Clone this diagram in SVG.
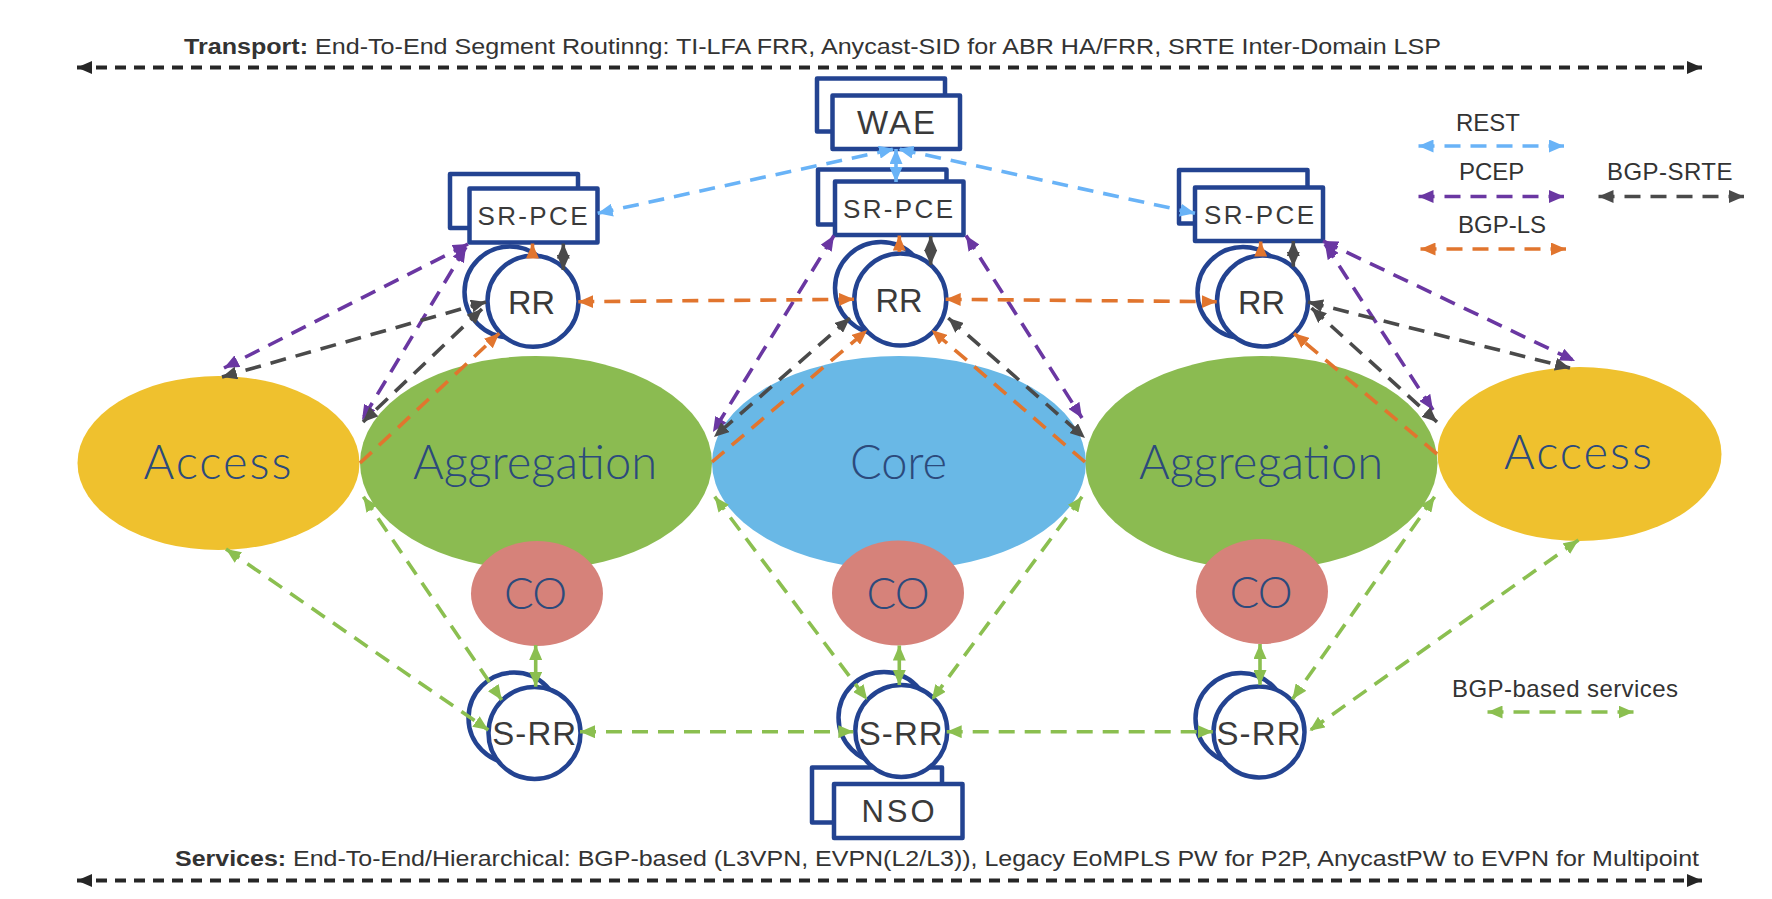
<svg xmlns="http://www.w3.org/2000/svg" width="1772" height="899" viewBox="0 0 1772 899">
<style>
.big{font-family:Lato,"Liberation Sans",sans-serif;font-weight:300;font-size:47px;fill:#2C4A7C;text-anchor:middle}
.co{font-family:Lato,"Liberation Sans",sans-serif;font-weight:300;font-size:44px;fill:#2C4A7C;text-anchor:middle}
.lbl{font-family:"Liberation Sans",Arial,sans-serif;fill:#3A3A3A;text-anchor:middle}
.leg{font-family:"Liberation Sans",Arial,sans-serif;font-size:24px;fill:#333333}
.cap{font-family:"Liberation Sans",Arial,sans-serif;font-size:22px;fill:#333333}
.box{fill:#FFFFFF;stroke:#234391;stroke-width:4.5;stroke-linejoin:round}
.cir{fill:#FFFFFF;stroke:#234391;stroke-width:4.5}
.c{fill:none;stroke-width:3.6;stroke-dasharray:16 10}
.solid{stroke-dasharray:none}
.rest{stroke:#69B3F7;marker-start:url(#mRest);marker-end:url(#mRest)}
.pcep{stroke:#6A37A2;marker-start:url(#mPcep);marker-end:url(#mPcep)}
.srte{stroke:#4A4A4A;marker-start:url(#mSrte);marker-end:url(#mSrte)}
.ls{stroke:#E1752E;marker-start:url(#mLs);marker-end:url(#mLs)}
.ls1{stroke:#E1752E;marker-end:url(#mLs)}
.svc{stroke:#8BBF50;marker-start:url(#mSvc);marker-end:url(#mSvc)}
.long{fill:none;stroke:#262626;stroke-width:4;stroke-dasharray:11 8;marker-start:url(#mLong);marker-end:url(#mLong)}
</style>
<defs>
<marker id="mRest" viewBox="0 0 15 13" refX="15" refY="6.5" markerWidth="15" markerHeight="13" markerUnits="userSpaceOnUse" orient="auto-start-reverse"><path d="M0,0 L15,6.5 L0,13 Z" fill="#69B3F7"/></marker>
<marker id="mPcep" viewBox="0 0 15 13" refX="15" refY="6.5" markerWidth="15" markerHeight="13" markerUnits="userSpaceOnUse" orient="auto-start-reverse"><path d="M0,0 L15,6.5 L0,13 Z" fill="#6A37A2"/></marker>
<marker id="mSrte" viewBox="0 0 15 13" refX="15" refY="6.5" markerWidth="15" markerHeight="13" markerUnits="userSpaceOnUse" orient="auto-start-reverse"><path d="M0,0 L15,6.5 L0,13 Z" fill="#4A4A4A"/></marker>
<marker id="mLs" viewBox="0 0 15 13" refX="15" refY="6.5" markerWidth="15" markerHeight="13" markerUnits="userSpaceOnUse" orient="auto-start-reverse"><path d="M0,0 L15,6.5 L0,13 Z" fill="#E1752E"/></marker>
<marker id="mSvc" viewBox="0 0 15 13" refX="15" refY="6.5" markerWidth="15" markerHeight="13" markerUnits="userSpaceOnUse" orient="auto-start-reverse"><path d="M0,0 L15,6.5 L0,13 Z" fill="#8BBF50"/></marker>
<marker id="mLong" viewBox="0 0 15 13" refX="15" refY="6.5" markerWidth="15" markerHeight="13" markerUnits="userSpaceOnUse" orient="auto-start-reverse"><path d="M0,0 L15,6.5 L0,13 Z" fill="#262626"/></marker>
</defs>
<rect width="1772" height="899" fill="#FFFFFF"/>

<!-- captions -->
<g id="transport">
<text class="cap" x="184" y="54" textLength="1257" lengthAdjust="spacingAndGlyphs"><tspan font-weight="bold">Transport:</tspan> End-To-End Segment Routinng: TI-LFA FRR, Anycast-SID for ABR HA/FRR, SRTE Inter-Domain LSP</text>
<line class="long" x1="77" y1="67.5" x2="1702" y2="67.5"/>
</g>
<g id="services">
<text class="cap" x="175" y="866" textLength="1524" lengthAdjust="spacingAndGlyphs"><tspan font-weight="bold">Services:</tspan> End-To-End/Hierarchical: BGP-based (L3VPN, EVPN(L2/L3)), Legacy EoMPLS PW for P2P, AnycastPW to EVPN for Multipoint</text>
<line class="long" x1="77" y1="880.5" x2="1702" y2="880.5"/>
</g>

<!-- domains -->
<g id="access-left"><ellipse cx="218.5" cy="463" rx="141" ry="87" fill="#EFC12E"/><text class="big" x="217.5" y="479" textLength="148">Access</text></g>
<g id="aggregation-left"><ellipse cx="536" cy="463" rx="176" ry="107" fill="#8BBB51"/><text class="big" x="535" y="479" textLength="244">Aggregation</text></g>
<g id="core"><ellipse cx="899" cy="463" rx="187" ry="107" fill="#69B8E6"/><text class="big" x="898.5" y="479" textLength="97">Core</text></g>
<g id="aggregation-right"><ellipse cx="1261.5" cy="463" rx="176" ry="107" fill="#8BBB51"/><text class="big" x="1261" y="479" textLength="244">Aggregation</text></g>
<g id="access-right"><ellipse cx="1579.5" cy="454" rx="142" ry="87" fill="#EFC12E"/><text class="big" x="1578" y="469" textLength="148">Access</text></g>

<g id="co-left"><ellipse cx="537" cy="593.5" rx="66" ry="52.5" fill="#D6827A"/><text class="co" x="535.5" y="609" textLength="63">CO</text></g>
<g id="co-middle"><ellipse cx="898" cy="593" rx="66" ry="52.5" fill="#D6827A"/><text class="co" x="898" y="609" textLength="63">CO</text></g>
<g id="co-right"><ellipse cx="1262" cy="591.5" rx="66" ry="52.5" fill="#D6827A"/><text class="co" x="1261" y="608" textLength="63">CO</text></g>

<!-- controllers -->
<g id="wae"><rect class="box" x="817" y="78.5" width="128" height="53"/><rect class="box" x="832.5" y="95.5" width="127.5" height="53.5"/><text class="lbl" x="896" y="134" font-size="33" textLength="78">WAE</text></g>
<g id="sr-pce-left"><rect class="box" x="450" y="174" width="128" height="54"/><rect class="box" x="469.5" y="188.5" width="128" height="54"/><text class="lbl" x="532.5" y="225" font-size="26" textLength="110">SR-PCE</text></g>
<g id="sr-pce-middle"><rect class="box" x="818" y="169.5" width="128.5" height="55"/><rect class="box" x="835" y="181.5" width="128.5" height="53.5"/><text class="lbl" x="898" y="217.5" font-size="26" textLength="110">SR-PCE</text></g>
<g id="sr-pce-right"><rect class="box" x="1179" y="170" width="128.5" height="53.5"/><rect class="box" x="1195" y="187.5" width="128" height="53.5"/><text class="lbl" x="1259" y="224" font-size="26" textLength="110">SR-PCE</text></g>

<g id="rr-left"><circle class="cir" cx="510" cy="292" r="45.5"/><circle class="cir" cx="533" cy="301.3" r="45.5"/><text class="lbl" x="531.5" y="313.5" font-size="32.5">RR</text></g>
<g id="rr-middle"><circle class="cir" cx="881" cy="288" r="46"/><circle class="cir" cx="900.3" cy="299.5" r="46"/><text class="lbl" x="899" y="311.7" font-size="32.5">RR</text></g>
<g id="rr-right"><circle class="cir" cx="1243" cy="292.5" r="45.5"/><circle class="cir" cx="1262.5" cy="301" r="45.5"/><text class="lbl" x="1261.5" y="313.5" font-size="32.5">RR</text></g>

<g id="nso"><rect class="box" x="812" y="767.5" width="130" height="55"/><rect class="box" x="834" y="784" width="128.5" height="54"/><text class="lbl" x="898" y="822" font-size="31" textLength="73">NSO</text></g>

<g id="s-rr-left"><circle class="cir" cx="514" cy="718" r="45.5"/><circle class="cir" cx="534.5" cy="733" r="46"/><text class="lbl" x="534.2" y="745" font-size="33" textLength="84">S-RR</text></g>
<g id="s-rr-middle"><circle class="cir" cx="884" cy="717.5" r="45.5"/><circle class="cir" cx="901.3" cy="731" r="46"/><text class="lbl" x="900.7" y="745" font-size="33" textLength="84">S-RR</text></g>
<g id="s-rr-right"><circle class="cir" cx="1241" cy="718.5" r="45.5"/><circle class="cir" cx="1259" cy="732" r="45.5"/><text class="lbl" x="1258.5" y="745" font-size="33" textLength="84">S-RR</text></g>

<!-- legend -->
<g id="legend">
<text class="leg" x="1456" y="131">REST</text>
<line class="c rest" x1="1418.5" y1="146" x2="1564" y2="146"/>
<text class="leg" x="1459" y="180">PCEP</text>
<line class="c pcep" x1="1418.5" y1="196.5" x2="1564" y2="196.5"/>
<text class="leg" x="1458" y="232.5">BGP-LS</text>
<line class="c ls" x1="1420.5" y1="249" x2="1566" y2="249"/>
<text class="leg" x="1607" y="179.5" textLength="125.5">BGP-SRTE</text>
<line class="c srte" x1="1598.5" y1="196.5" x2="1744" y2="196.5"/>
<text class="leg" x="1452" y="697" textLength="226">BGP-based services</text>
<line class="c svc" x1="1487.5" y1="712" x2="1633.5" y2="712"/>
</g>

<!-- connectors -->
<g id="connectors">
<!-- REST -->
<line class="c rest" x1="597.7" y1="213.3" x2="894" y2="149"/>
<line class="c rest solid" x1="896" y1="149" x2="896" y2="182"/>
<line class="c rest" x1="1195" y1="213.3" x2="898.5" y2="149"/>
<!-- PCEP -->
<line class="c pcep" x1="468" y1="244" x2="224" y2="368"/>
<line class="c pcep" x1="466" y1="247" x2="362" y2="420"/>
<line class="c pcep" x1="834" y1="235.5" x2="713" y2="432"/>
<line class="c pcep" x1="966" y1="235.5" x2="1082" y2="418"/>
<line class="c pcep" x1="1323" y1="241" x2="1575" y2="361"/>
<line class="c pcep" x1="1325" y1="244" x2="1433" y2="410"/>
<!-- BGP-SRTE -->
<line class="c srte" x1="486" y1="302" x2="222" y2="377"/>
<line class="c srte" x1="482" y1="309" x2="363" y2="422"/>
<line class="c srte" x1="850" y1="318" x2="714" y2="437"/>
<line class="c srte" x1="948.3" y1="318" x2="1085" y2="438"/>
<line class="c srte" x1="1308" y1="302" x2="1570" y2="368"/>
<line class="c srte" x1="1311.5" y1="308" x2="1437" y2="422"/>
<line class="c srte solid" x1="563.3" y1="243.5" x2="563.3" y2="270"/>
<line class="c srte solid" x1="930.7" y1="236" x2="930.7" y2="265"/>
<line class="c srte solid" x1="1293.3" y1="241" x2="1293.3" y2="266.7"/>
<!-- BGP-LS -->
<line class="c ls" x1="578.3" y1="301.7" x2="854" y2="299.3"/>
<line class="c ls" x1="945.7" y1="299.3" x2="1216.7" y2="301.7"/>
<line class="c ls1 solid" x1="532.5" y1="258" x2="532.5" y2="243.5"/>
<line class="c ls1 solid" x1="899.3" y1="252" x2="899.3" y2="235.5"/>
<line class="c ls1 solid" x1="1260.7" y1="256" x2="1260.7" y2="241.5"/>
<line class="c ls1" x1="360" y1="463" x2="499.3" y2="333.3"/>
<line class="c ls1" x1="712" y1="462" x2="867.3" y2="330"/>
<line class="c ls1" x1="1085" y1="462" x2="931.7" y2="330"/>
<line class="c ls1" x1="1437" y1="454" x2="1294" y2="333.3"/>
<!-- BGP-based services -->
<line class="c svc" x1="226" y1="549" x2="488.3" y2="730"/>
<line class="c svc" x1="363.4" y1="496.7" x2="501.7" y2="700"/>
<line class="c svc solid" x1="535.7" y1="645" x2="535.7" y2="686.7"/>
<line class="c svc" x1="580" y1="731.7" x2="853.3" y2="731.7"/>
<line class="c svc" x1="714.7" y1="496.7" x2="867.3" y2="700"/>
<line class="c svc solid" x1="899.3" y1="645.5" x2="899.3" y2="685"/>
<line class="c svc" x1="1082" y1="496.7" x2="931.7" y2="700"/>
<line class="c svc" x1="946.7" y1="731.7" x2="1212.8" y2="731.7"/>
<line class="c svc solid" x1="1260" y1="644" x2="1260" y2="685"/>
<line class="c svc" x1="1434.6" y1="496.7" x2="1292.4" y2="699.3"/>
<line class="c svc" x1="1578.5" y1="540" x2="1309.5" y2="730.7"/>
</g>
</svg>
